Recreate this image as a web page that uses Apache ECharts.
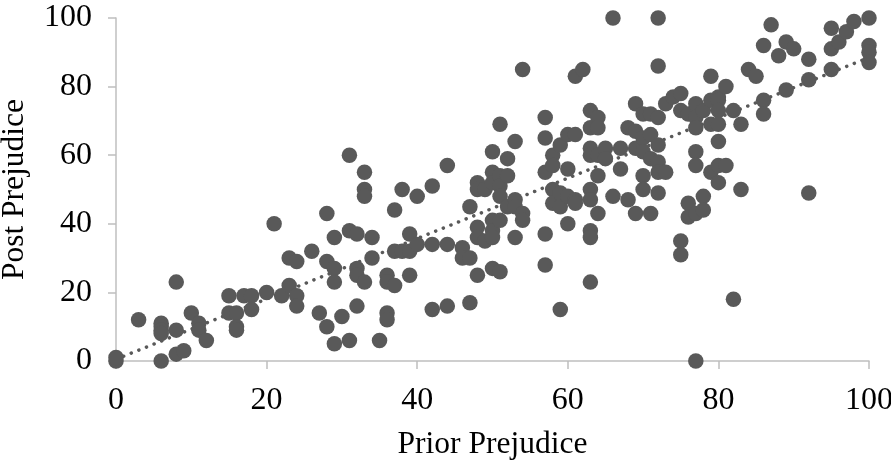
<!DOCTYPE html>
<html>
<head>
<meta charset="utf-8">
<style>
html, body { margin: 0; padding: 0; background: #fff; }
#chart { width: 891px; height: 461px; }
</style>
<script src="https://cdn.jsdelivr.net/npm/echarts@6/dist/echarts.min.js"></script>
</head>
<body>
<div id="chart"></div>
<script>
// prior, post scores
var scores = [
  [0,0],[0,1],[3,12],[6,11],[6,10],[6,9],[6,8],[6,0],[8,23],[8,9],[8,2],[9,3],
  [10,14],[11,11],[11,9],[12,6],[15,19],[15,14],[16,14],[16,10],[16,9],[17,19],[18,19],[18,15],
  [20,20],[21,40],[22,19],[23,22],[23,30],[24,29],[24,19],[24,16],[26,32],[27,14],[28,43],[28,29],
  [28,10],[29,36],[29,27],[29,23],[29,5],[30,13],[31,60],[31,38],[31,6],[32,37],[32,27],[32,25],
  [32,16],[33,55],[33,50],[33,48],[33,23],[34,36],[34,30],[35,6],[36,25],[36,23],[36,14],[36,12],
  [37,44],[37,32],[37,22],[38,50],[38,32],[39,37],[39,32],[39,25],[40,48],[40,34],[42,51],[42,34],
  [42,15],[44,57],[44,34],[44,16],[46,33],[46,30],[47,45],[47,30],[47,17],[48,52],[48,50],[48,39],
  [48,36],[48,25],[49,50],[49,35],[50,61],[50,55],[50,52],[50,41],[50,38],[50,36],[50,27],[51,69],
  [51,54],[51,51],[51,48],[51,41],[51,26],[52,59],[52,54],[52,45],[53,64],[53,47],[53,45],[53,36],
  [54,85],[54,43],[54,41],[57,71],[57,65],[57,55],[57,37],[57,28],[58,60],[58,57],[58,50],[58,46],
  [59,63],[59,49],[59,45],[59,15],[60,66],[60,56],[60,48],[60,40],[61,83],[61,66],[61,47],[61,46],
  [62,85],[63,73],[63,68],[63,62],[63,60],[63,50],[63,47],[63,38],[63,36],[63,23],[64,71],[64,68],
  [64,60],[64,54],[64,43],[65,62],[65,59],[66,100],[66,48],[67,62],[67,56],[68,68],[68,47],[69,75],
  [69,67],[69,62],[69,43],[70,72],[70,65],[70,61],[70,54],[70,50],[71,72],[71,66],[71,59],[71,43],
  [72,100],[72,86],[72,71],[72,63],[72,58],[72,55],[72,49],[73,75],[73,55],[74,77],[75,78],[75,73],
  [75,35],[75,31],[76,72],[76,46],[76,42],[77,75],[77,71],[77,68],[77,61],[77,57],[77,43],[77,0],
  [78,73],[78,48],[78,44],[79,83],[79,76],[79,69],[79,55],[80,77],[80,76],[80,73],[80,69],[80,64],
  [80,57],[80,52],[81,80],[81,57],[82,73],[82,18],[83,69],[83,50],[84,85],[85,83],[86,92],[86,76],
  [86,72],[87,98],[88,89],[89,93],[89,79],[90,91],[92,88],[92,82],[92,49],[95,97],[95,91],[95,85],
  [96,93],[97,96],[98,99],[100,100],[100,92],[100,90],[100,87]
];
var trendLine = [[0, 0.5], [100, 88.5]];
var axisMin = 0;
var axisMax = 100;
var axisStep = 20;

var textFont = '"Liberation Serif", "Times New Roman", serif';
var axisGrey = '#bfbfbf';
var markGrey = '#595959';

function valueAxis(name, gap, labelMargin) {
  return {
    type: 'value',
    min: axisMin,
    max: axisMax,
    interval: axisStep,
    name: name,
    nameLocation: 'middle',
    nameGap: gap,
    nameTextStyle: { fontFamily: textFont, fontSize: 31.5, color: '#000' },
    splitLine: { show: false },
    axisLine: { show: true, onZero: false, lineStyle: { color: axisGrey, width: 1.5 } },
    axisTick: { show: true, length: 8, lineStyle: { color: axisGrey, width: 1.5 } },
    axisLabel: { fontFamily: textFont, fontSize: 32, color: '#000', margin: labelMargin, showMaxLabel: true, showMinLabel: true, hideOverlap: false }
  };
}

var chart = echarts.init(document.getElementById('chart'), null, { renderer: 'canvas' });
chart.setOption({
  animation: false,
  grid: { left: 116, right: 22, top: 18, bottom: 100, outerBoundsMode: 'none' },
  xAxis: valueAxis('Prior Prejudice', 68, 24),
  yAxis: valueAxis('Post Prejudice', 85, 24),
  series: [
    {
      type: 'line',
      data: trendLine,
      showSymbol: false,
      z: 1,
      lineStyle: { color: markGrey, width: 3.5, type: [0.1, 8.1], cap: 'round' }
    },
    {
      type: 'scatter',
      data: scores,
      clip: false,
      symbol: 'circle',
      symbolSize: 15.5,
      z: 3,
      itemStyle: { color: markGrey, opacity: 1 }
    }
  ]
});
</script>
</body>
</html>
